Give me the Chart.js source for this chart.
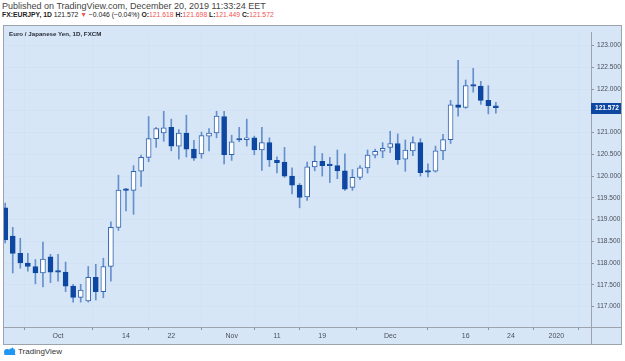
<!DOCTYPE html>
<html>
<head>
<meta charset="utf-8">
<script src="https://cdn.jsdelivr.net/npm/chart.js@4.4.0/dist/chart.umd.min.js"></script>
<style>
  body { margin: 0; width: 625px; height: 361px; background: #fff; font-family: "Liberation Sans", Arial, sans-serif; position: relative; overflow: hidden; }
  .hdr1 { position: absolute; left: 2px; top: 1px; font-size: 9px; color: #444; white-space: nowrap; }
  .hdr2 { position: absolute; left: 2px; top: 11px; font-size: 6.8px; color: #222; white-space: nowrap; }
  .hdr2 b { font-weight: bold; }
  .hdr2 .r { color: #ef5350; }
  .box { position: absolute; left: 3px; top: 25px; width: 619px; height: 320px; box-sizing: border-box; border: 1px solid #9ca3ad; background: #d6e6f7; }
  .box canvas { position: absolute; left: 0; top: 0; }
  .ttl { position: absolute; left: 5px; top: 4px; font-size: 6.2px; font-weight: bold; color: #2a2e39; }
  .vline { position: absolute; left: 587px; top: 301px; width: 1px; height: 17px; background: #9ca3ad; }
  .hline { position: absolute; left: 587px; top: 301px; width: 30px; height: 1px; background: #9ca3ad; }
  .logo { position: absolute; left: 3px; top: 346px; font-size: 8px; color: #333; display: flex; align-items: center; }
  .logo svg { margin-right: 2px; }
</style>
</head>
<body>
<div class="hdr1">Published on TradingView.com, December 20, 2019 11:33:24 EET</div>
<div class="hdr2"><b>FX:EURJPY, 1D</b> 121.572 <span class="r">▼</span> −0.046 (−0.04%) <b>O:</b><span class="r">121.618</span> <b>H:</b><span class="r">121.698</span> <b>L:</b><span class="r">121.449</span> <b>C:</b><span class="r">121.572</span></div>
<div class="box">
  <canvas id="chart" width="617" height="318"></canvas>
  <div class="ttl">Euro / Japanese Yen, 1D, FXCM</div>
  <div class="vline"></div>
  <div class="hline"></div>
</div>
<div class="logo">
  <svg width="13" height="10" viewBox="0 0 13 10"><path d="M1 9 L4.5 3 L7 6 L9.5 1 L12.5 9 Z" fill="#2196f3"/><circle cx="4" cy="6" r="3" fill="#2196f3"/><circle cx="9" cy="5.5" r="3.2" fill="#2196f3"/></svg>
  <span>TradingView</span>
</div>
<script>
// daily candles, Sep 20 .. Dec 20 2019 (weekdays)
const opens  = [119.27, 118.62, 118.22, 118.00, 117.92, 117.77, 118.14, 117.80, 117.79, 117.47,
                117.21, 117.13, 117.67, 117.34, 117.92, 118.82, 119.68, 119.67, 120.11, 120.43,
                120.86, 120.99, 121.12, 120.69, 120.99, 120.62, 120.51, 120.92, 120.99, 121.37,
                120.49, 120.84, 120.84, 120.88, 120.60, 120.77, 120.36, 120.32, 120.00, 119.79,
                119.52, 120.21, 120.34, 120.25, 120.24, 120.12, 119.74, 119.97, 120.19, 120.48,
                120.57, 120.66, 120.75, 120.39, 120.58, 120.77, 120.10, 120.11, 120.58, 120.84,
                121.64, 121.58, 122.08, 122.07, 121.74, 121.618];
const highs  = [119.38, 118.82, 118.57, 118.22, 118.08, 118.48, 118.20, 118.20, 118.02, 117.51,
                117.51, 117.92, 117.97, 118.11, 118.95, 120.02, 119.72, 120.24, 120.48, 121.37,
                121.12, 121.49, 121.31, 121.07, 121.40, 120.82, 121.01, 121.09, 121.49, 121.49,
                120.94, 121.12, 121.31, 120.92, 121.12, 120.88, 120.44, 120.66, 120.19, 119.83,
                120.32, 120.69, 120.52, 120.43, 120.60, 120.51, 120.15, 120.24, 120.60, 120.62,
                120.77, 121.03, 120.97, 120.83, 120.90, 120.86, 120.28, 120.69, 120.96, 121.74,
                122.66, 122.21, 122.48, 122.18, 122.08, 121.698];
const lows   = [118.46, 117.77, 117.88, 117.81, 117.52, 117.45, 117.55, 117.58, 117.34, 117.10,
                117.10, 117.10, 117.15, 117.20, 117.58, 118.75, 119.20, 119.12, 119.76, 120.33,
                120.66, 120.80, 120.58, 120.39, 120.44, 120.36, 120.41, 120.58, 120.88, 120.28,
                120.36, 120.79, 120.69, 120.49, 120.13, 120.22, 120.07, 119.97, 119.59, 119.27,
                119.44, 120.12, 120.00, 119.85, 119.94, 119.67, 119.67, 119.92, 120.07, 120.42,
                120.42, 120.54, 120.27, 120.11, 120.47, 120.00, 119.98, 120.09, 120.38, 120.75,
                121.38, 121.56, 121.93, 121.65, 121.43, 121.449];
const closes = [118.53, 118.22, 118.00, 117.92, 117.77, 118.09, 117.79, 117.79, 117.47, 117.21,
                117.38, 117.67, 117.34, 117.92, 118.82, 119.68, 119.67, 120.11, 120.43, 120.86,
                121.09, 121.11, 120.69, 120.99, 120.62, 120.41, 120.93, 120.99, 121.38, 120.49,
                120.79, 120.83, 120.88, 120.60, 120.77, 120.37, 120.31, 120.00, 119.79, 119.51,
                120.21, 120.34, 120.24, 120.24, 120.12, 119.70, 119.97, 120.19, 120.48, 120.57,
                120.64, 120.75, 120.38, 120.60, 120.77, 120.08, 120.09, 120.58, 120.84, 121.64,
                121.58, 122.08, 122.07, 121.74, 121.618, 121.572];

// time axis: bar index of each labelled date
const dateTicks  = [7, 16, 22, 30, 36, 42, 51, 61, 67, 73];
const dateLabels = ['Oct', '14', '22', 'Nov', '11', '19', 'Dec', '16', '24', '2020'];
const priceTicks = [117.0, 117.5, 118.0, 118.5, 119.0, 119.5, 120.0, 120.5, 121.0, 121.5, 122.0, 122.5, 123.0];

const upColor = '#ffffff';
const downColor = '#0d47a1';
const edgeColor = '#2f62b0';
const wickColor = '#6690cc';

const isUp = i => closes[i] > opens[i];

const lastPriceLabel = {
    id: 'lastPrice',
    afterDraw(chart) {
        const ctx = chart.ctx;
        const last = closes[closes.length - 1];
        const y = Math.round(chart.scales.y.getPixelForValue(last));
        const x = chart.chartArea.right;
        ctx.save();
        ctx.fillStyle = '#0d47a1';
        ctx.fillRect(x, y - 5, 30, 11);
        ctx.fillStyle = '#ffffff';
        ctx.font = 'bold 6.6px "Liberation Sans", Arial';
        ctx.textBaseline = 'middle';
        ctx.fillText(last.toFixed(3), x + 4, y + 0.5);
        ctx.restore();
    }
};

new Chart(document.getElementById('chart'), {
    type: 'bar',
    data: {
        datasets: [
            {
                label: 'body',
                data: opens.map((o, i) => ({ x: i, y: [o, closes[i]] })),
                backgroundColor: ctx => isUp(ctx.dataIndex) ? upColor : downColor,
                borderColor: ctx => isUp(ctx.dataIndex) ? edgeColor : downColor,
                borderWidth: 1,
                borderSkipped: false,
                barThickness: 5,
                minBarLength: 1.5,
                grouped: false,
                order: 1
            },
            {
                label: 'wick',
                data: lows.map((l, i) => ({ x: i, y: [l, highs[i]] })),
                backgroundColor: wickColor,
                borderWidth: 0,
                barThickness: 1,
                grouped: false,
                order: 2
            }
        ]
    },
    options: {
        responsive: false,
        animation: false,
        devicePixelRatio: 1,
        layout: { padding: 0 },
        plugins: { legend: { display: false }, tooltip: { enabled: false } },
        scales: {
            x: {
                type: 'linear',
                offset: false,
                min: -0.159,
                max: 77.6,
                afterBuildTicks: s => { s.ticks = dateTicks.map(v => ({ value: v })); },
                afterFit: s => { s.height = 17; },
                grid: { color: 'rgba(170,195,225,0.12)', tickColor: '#8d949e', tickLength: 3 },
                border: { color: '#9ca3ad' },
                ticks: {
                    autoSkip: false,
                    maxRotation: 0,
                    padding: 2,
                    color: '#4a4f58',
                    font: { size: 7, family: '"Liberation Sans", Arial' },
                    callback: v => dateLabels[dateTicks.indexOf(v)]
                }
            },
            y: {
                position: 'right',
                min: 116.528,
                max: 123.292,
                afterBuildTicks: s => { s.ticks = priceTicks.map(v => ({ value: v })); },
                afterFit: s => { s.width = 30; },
                grid: { color: 'rgba(170,195,225,0.12)', tickColor: '#8d949e', tickLength: 3 },
                border: { color: '#9ca3ad' },
                ticks: {
                    padding: 3,
                    color: '#4a4f58',
                    font: { size: 6.6, family: '"Liberation Sans", Arial' },
                    callback: v => v.toFixed(3)
                }
            }
        }
    },
    plugins: [lastPriceLabel]
});
</script>
</body>
</html>
